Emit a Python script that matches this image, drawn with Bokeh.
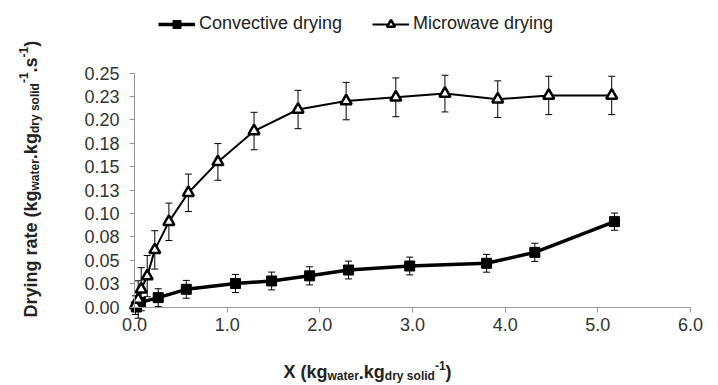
import math
from bokeh.plotting import figure
from bokeh.models import (Range1d, FixedTicker, Whisker, TeeHead, ColumnDataSource,
                          Legend, LegendItem, Label)
from bokeh.embed import file_html
from bokeh.resources import INLINE

# ---------------- data ----------------
conv_x = [0.02, 0.065, 0.256, 0.559, 1.09, 1.48, 1.89, 2.31, 2.97, 3.80, 4.32, 5.18]
conv_y = [0.000, 0.005, 0.010, 0.0189, 0.0251, 0.0278, 0.0333, 0.0395, 0.0438, 0.0467, 0.0584, 0.0912]
conv_err = [0.002, 0.003, 0.0095, 0.0095, 0.0097, 0.0095, 0.0097, 0.0095, 0.0095, 0.0095, 0.0097, 0.0092]

mw_x = [0.01, 0.04, 0.072, 0.137, 0.219, 0.371, 0.581, 0.90, 1.29, 1.765, 2.284, 2.82, 3.35, 3.92, 4.47, 5.15]
mw_y = [0.002, 0.008, 0.019, 0.033, 0.061, 0.091, 0.122, 0.155, 0.188, 0.211, 0.220, 0.224, 0.228, 0.222, 0.226, 0.226]
mw_err = [0.010, 0.020, 0.023, 0.022, 0.0205, 0.020, 0.020, 0.0196, 0.020, 0.0205, 0.020, 0.0207, 0.0196, 0.0196, 0.0205, 0.0205]

series_names = ["Convective drying", "Microwave drying"]

x_ticks = [0.0, 1.0, 2.0, 3.0, 4.0, 5.0, 6.0]
x_tick_labels = ["0.0", "1.0", "2.0", "3.0", "4.0", "5.0", "6.0"]
y_ticks = [0.0, 0.025, 0.05, 0.075, 0.1, 0.125, 0.15, 0.175, 0.2, 0.225, 0.25]
y_tick_labels = ["0.00", "0.03", "0.05", "0.08", "0.10", "0.13", "0.15", "0.18", "0.20", "0.23", "0.25"]

x_title = [("X (kg", "main"), ("water", "sub"), (".", "main"), ("kg", "main"),
           ("dry solid", "sub"), ("-1", "sup"), (")", "main")]
y_title = [("Drying rate (kg", "main"), ("water", "sub"), (".", "main"), ("kg", "main"),
           ("dry solid", "sub"), ("-1", "sup"), (".", "main"), ("s", "main"),
           ("-1", "sup"), (")", "main")]

# ---------------- geometry (pixels of the canvas) ----------------
W, H = 718, 385
PX_LEFT, PX_RIGHT = 134.0, 690.0     # where x = 0 and x = 6 fall
PX_TOP, PX_BOTTOM = 72.5, 306.5      # where y = 0.25 and y = 0 fall
X0, X1 = x_ticks[0], x_ticks[-1]
Y0, Y1 = y_ticks[0], y_ticks[-1]
kx = (PX_RIGHT - PX_LEFT) / (X1 - X0)
ky = (PX_BOTTOM - PX_TOP) / (Y1 - Y0)
x_range = Range1d(X0 - PX_LEFT / kx, X1 + (W - PX_RIGHT) / kx)
y_range = Range1d(Y0 - (H - PX_BOTTOM) / ky, Y1 + PX_TOP / ky)

p = figure(width=W, height=H, output_backend="svg", toolbar_location=None,
           x_range=x_range, y_range=y_range,
           min_border=0, min_border_left=0, min_border_right=0,
           min_border_top=0, min_border_bottom=0)
p.grid.visible = False
p.outline_line_color = None
p.background_fill_color = "white"
p.border_fill_color = "white"

AX = "#9a9a9a"
for ax in (p.xaxis[0], p.yaxis[0]):
    ax.fixed_location = 0
    ax.axis_line_color = AX
    ax.major_tick_line_color = AX
    ax.minor_tick_line_color = None
    ax.major_tick_out = 5
    ax.major_tick_in = 0
    ax.major_label_text_font = "Liberation Sans"
    ax.major_label_text_font_size = "18px"
    ax.major_label_text_color = "#333333"

p.xaxis[0].bounds = (X0, X1)
p.xaxis[0].ticker = FixedTicker(ticks=x_ticks, minor_ticks=[])
p.xaxis[0].major_label_overrides = dict(zip(x_ticks, x_tick_labels))
p.xaxis[0].major_label_standoff = 6
p.yaxis[0].bounds = (Y0, Y1)
p.yaxis[0].ticker = FixedTicker(ticks=y_ticks, minor_ticks=[])
p.yaxis[0].major_label_overrides = dict(zip(y_ticks, y_tick_labels))
p.yaxis[0].major_label_standoff = 10

# error bars
def whisk(xs, ys, es):
    src = ColumnDataSource(dict(x=xs, lower=[a - b for a, b in zip(ys, es)],
                                upper=[a + b for a, b in zip(ys, es)]))
    w = Whisker(source=src, base="x", lower="lower", upper="upper",
                line_color="black", line_width=1,
                upper_head=TeeHead(size=7, line_color="black", line_width=1),
                lower_head=TeeHead(size=7, line_color="black", line_width=1),
                level="underlay")
    p.add_layout(w)

whisk(conv_x, conv_y, conv_err)
whisk(mw_x, mw_y, mw_err)

conv_line = p.line(conv_x, conv_y, line_color="black", line_width=3.5)
mw_line = p.line(mw_x, mw_y, line_color="black", line_width=2)
conv_pts = p.scatter(conv_x, conv_y, marker="square", size=10, fill_color="black",
                     line_color="black", line_width=1)
mw_pts = p.scatter(mw_x, mw_y, marker="triangle", size=11, fill_color="white",
                   line_color="black", line_width=2.5)

legend = Legend(items=[LegendItem(label=series_names[0], renderers=[conv_line, conv_pts]),
                       LegendItem(label=series_names[1], renderers=[mw_line, mw_pts])],
                orientation="horizontal", location=(158, H - 34), padding=0, margin=0,
                spacing=30, glyph_width=37, glyph_height=20, label_standoff=4,
                label_height=20,
                label_text_font="Liberation Sans", label_text_font_size="18px",
                label_text_color="#222222", border_line_color=None,
                background_fill_alpha=0)
p.add_layout(legend)

# ---------------- axis titles (rich text built from pieces) ----------------
BOLD_W = {' ': 278, '(': 333, ')': 333, '-': 333, '.': 278, '1': 556, 'X': 667, 'D': 722,
          'a': 556, 'd': 611, 'e': 556, 'g': 611, 'i': 278, 'k': 556, 'l': 278, 'n': 611,
          'o': 611, 'r': 389, 's': 556, 't': 333, 'w': 778, 'y': 556}
SIZES = {"main": 18, "sub": 12, "sup": 12}
SHIFT = {"main": 0, "sub": -4, "sup": 7}

def width(txt, size):
    return sum(BOLD_W.get(c, 556) for c in txt) * size / 1000.0

def add_title(pieces, start, base, vertical):
    pos = start
    for txt, kind in pieces:
        size = SIZES[kind]
        if vertical:
            lx, ly, ang = base - SHIFT[kind], pos, math.pi / 2
        else:
            lx, ly, ang = pos, base + SHIFT[kind], 0
        p.add_layout(Label(x=lx, y=ly, x_units="screen", y_units="screen", text=txt,
                           angle=ang, text_font="Liberation Sans", text_font_style="bold",
                           text_font_size=f"{size}px", text_color="#222222",
                           text_align="left", text_baseline="alphabetic"))
        pos += width(txt, size)

add_title(x_title, 283, H - 371.5, False)
add_title(y_title, H - 317, 30, True)

open("out.html", "w").write(file_html(p, INLINE))
